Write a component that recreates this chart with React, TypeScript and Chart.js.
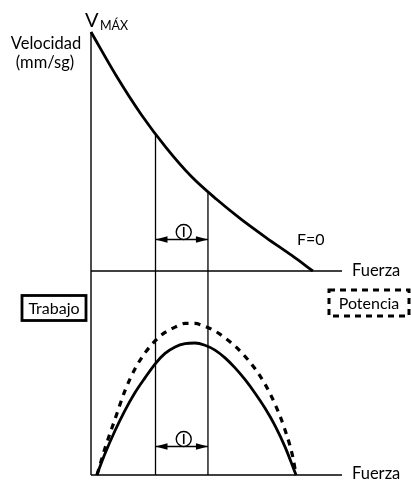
import { useEffect, useRef } from "react";
import { Chart, registerables } from "chart.js";

Chart.register(...registerables);

// Upper panel: velocity vs force (arbitrary units, 0..100)
const velF = [0, 10, 20, 30, 40, 50, 60, 70, 80, 88.4];
const velV = [100, 81.8, 65.5, 51.5, 39.5, 30, 21.5, 13.8, 6.5, 0];

// Lower panel: work (solid) vs force
const trabF = [2.3, 5.6, 9.6, 13.5, 17.5, 21.5, 25.5, 29.5, 33.5, 37.5, 41.4, 45.4, 49.4, 53.4, 57.4, 61.4, 65.3, 69.3, 73.3, 77.3, 81.7];
const trabT = [0, 10.5, 21.8, 31.6, 40.3, 47.6, 54.4, 59.6, 62.8, 64.4, 64.7, 63.6, 61.2, 57.4, 52.5, 46.7, 40.2, 32.8, 24.2, 13.8, 0];

// Lower panel: power (dashed) vs force
const potF = [2.4, 5.6, 9.6, 13.5, 17.5, 21.5, 25.5, 29.5, 33.5, 37.5, 41.4, 45.4, 49.4, 53.4, 57.4, 61.4, 65.3, 69.3, 73.3, 77.3, 80.5, 81.7];
const potP = [0, 13.2, 27.5, 41.2, 52.0, 59.8, 65.7, 69.9, 72.5, 74.3, 74.3, 72.8, 70.6, 67.2, 63.2, 58.1, 52.2, 44.6, 34.8, 22.1, 8.3, 0];

// Optimal interval guides
const guideF = [25.7, 46.6];
const guideV = [57, 33.5];
const arrowLevels = [13.2, 14.0]; // upper (velocity units), lower (work units)

const axisMin = 0;
const axisMax = 100;

const textVmax = "V";
const textVmaxSub = "MÁX";
const textYTitle = ["Velocidad", "(mm/sg)"];
const textForce = "Fuerza";
const textF0 = "F=0";
const textTrabajo = "Trabajo";
const textPotencia = "Potencia";

const FONT = "Lato, 'Open Sans', sans-serif";

function pts(xs: number[], ys: number[]) {
  return xs.map((x, i) => ({ x, y: ys[i] }));
}

const base = {
  borderColor: "#000",
  backgroundColor: "#000",
  pointRadius: 0,
  fill: false,
  clip: false as any,
  xAxisID: "x",
};

export default function App() {
  const ref = useRef<HTMLCanvasElement | null>(null);

  useEffect(() => {
    if (!ref.current) return;

    const decor = {
      id: "decor",
      afterDatasetsDraw(chart: any) {
        const ctx = chart.ctx as CanvasRenderingContext2D;
        const x = chart.scales.x;
        const yV = chart.scales.yV;
        const yT = chart.scales.yT;
        ctx.save();
        ctx.fillStyle = "#000";
        ctx.strokeStyle = "#000";

        const x1 = x.getPixelForValue(guideF[0]);
        const x2 = x.getPixelForValue(guideF[1]);
        const drawArrow = (py: number) => {
          ctx.lineWidth = 1.4;
          ctx.setLineDash([]);
          ctx.beginPath();
          ctx.moveTo(x1, py);
          ctx.lineTo(x2, py);
          ctx.stroke();
          ctx.beginPath();
          ctx.moveTo(x1, py);
          ctx.lineTo(x1 + 12, py - 3.2);
          ctx.lineTo(x1 + 12, py + 3.2);
          ctx.closePath();
          ctx.fill();
          ctx.beginPath();
          ctx.moveTo(x2, py);
          ctx.lineTo(x2 - 12, py - 3.2);
          ctx.lineTo(x2 - 12, py + 3.2);
          ctx.closePath();
          ctx.fill();
          const cx = (x1 + x2) / 2 + 2;
          const cy = py - 7.5;
          ctx.beginPath();
          ctx.arc(cx, cy, 7.5, 0, Math.PI * 2);
          ctx.fillStyle = "#fff";
          ctx.fill();
          ctx.stroke();
          ctx.fillStyle = "#000";
          ctx.lineWidth = 1.6;
          ctx.beginPath();
          ctx.moveTo(cx, cy - 5);
          ctx.lineTo(cx, cy + 5);
          ctx.stroke();
        };
        drawArrow(yV.getPixelForValue(arrowLevels[0]));
        drawArrow(yT.getPixelForValue(arrowLevels[1]));

        const right = chart.chartArea.right;

        // V max
        ctx.textBaseline = "alphabetic";
        ctx.textAlign = "left";
        ctx.font = `20px ${FONT}`;
        ctx.fillText(textVmax, 85, 27);
        ctx.font = `12.5px ${FONT}`;
        ctx.fillText(textVmaxSub, 100, 30);

        // y title
        ctx.textAlign = "center";
        ctx.font = `16.5px ${FONT}`;
        ctx.fillText(textYTitle[0], 46, 49);
        ctx.fillText(textYTitle[1], 45, 68);

        // F=0
        ctx.textAlign = "left";
        ctx.textBaseline = "middle";
        ctx.font = `16px ${FONT}`;
        ctx.fillText(textF0, 297, yV.getPixelForValue(13));

        // Fuerza labels
        ctx.font = `16.5px ${FONT}`;
        ctx.fillText(textForce, right + 10, yV.getPixelForValue(0));
        ctx.fillText(textForce, right + 10, yT.getPixelForValue(0) - 1);

        // Trabajo box
        ctx.lineWidth = 2.8;
        ctx.setLineDash([]);
        ctx.strokeRect(22, 295.5, 64, 25);
        ctx.textAlign = "center";
        ctx.font = `16px ${FONT}`;
        ctx.fillText(textTrabajo, 54, 308.5);

        // Potencia dashed box
        ctx.lineWidth = 3;
        ctx.setLineDash([6, 5]);
        ctx.strokeRect(329, 290, 80, 26);
        ctx.setLineDash([]);
        ctx.fillText(textPotencia, 369, 303.5);

        ctx.restore();
      },
    };

    const guideUpper = guideF.map((f, i) => ({
      ...base,
      yAxisID: "yV",
      borderWidth: 1.3,
      data: [
        { x: f, y: guideV[i] },
        { x: f, y: axisMin },
      ],
    }));
    const guideLower = guideF.map((f) => ({
      ...base,
      yAxisID: "yT",
      borderWidth: 1.3,
      data: [
        { x: f, y: axisMax },
        { x: f, y: axisMin },
      ],
    }));

    const chart = new Chart(ref.current, {
      type: "line",
      data: {
        datasets: [
          // axes
          { ...base, yAxisID: "yV", borderWidth: 1.4, data: [{ x: axisMin, y: axisMin }, { x: axisMax, y: axisMin }] },
          { ...base, yAxisID: "yT", borderWidth: 1.4, data: [{ x: axisMin, y: axisMin }, { x: axisMax, y: axisMin }] },
          { ...base, yAxisID: "yV", borderWidth: 1.4, data: [{ x: axisMin, y: axisMin }, { x: axisMin, y: axisMax }] },
          { ...base, yAxisID: "yT", borderWidth: 1.4, data: [{ x: axisMin, y: axisMin }, { x: axisMin, y: axisMax }] },
          ...guideUpper,
          ...guideLower,
          // velocity curve
          {
            ...base,
            yAxisID: "yV",
            borderWidth: 2.8,
            cubicInterpolationMode: "monotone",
            data: pts(velF, velV),
          },
          // work (solid)
          {
            ...base,
            yAxisID: "yT",
            borderWidth: 2.8,
            cubicInterpolationMode: "monotone",
            data: pts(trabF, trabT),
          },
          // power (dashed)
          {
            ...base,
            yAxisID: "yT",
            borderWidth: 3.2,
            borderDash: [6, 6],
            cubicInterpolationMode: "monotone",
            data: pts(potF, potP),
          },
        ] as any,
      },
      options: {
        animation: false,
        responsive: false,
        maintainAspectRatio: false,
        events: [],
        layout: { padding: { left: 91, right: 69, top: 32, bottom: 6 } },
        plugins: { legend: { display: false }, tooltip: { enabled: false } },
        scales: {
          x: { type: "linear", min: axisMin, max: axisMax, display: false },
          yT: { type: "linear", min: axisMin, max: axisMax, display: false, position: "left", stack: "panels", stackWeight: 204 },
          yV: { type: "linear", min: axisMin, max: axisMax, display: false, position: "left", stack: "panels", stackWeight: 239 },
        } as any,
      },
      plugins: [decor],
    });

    return () => chart.destroy();
  }, []);

  return (
    <div style={{ position: "absolute", left: 0, top: 0, width: 411, height: 481, background: "#fff" }}>
      <canvas ref={ref} width={411} height={481} style={{ display: "block" }} />
    </div>
  );
}
